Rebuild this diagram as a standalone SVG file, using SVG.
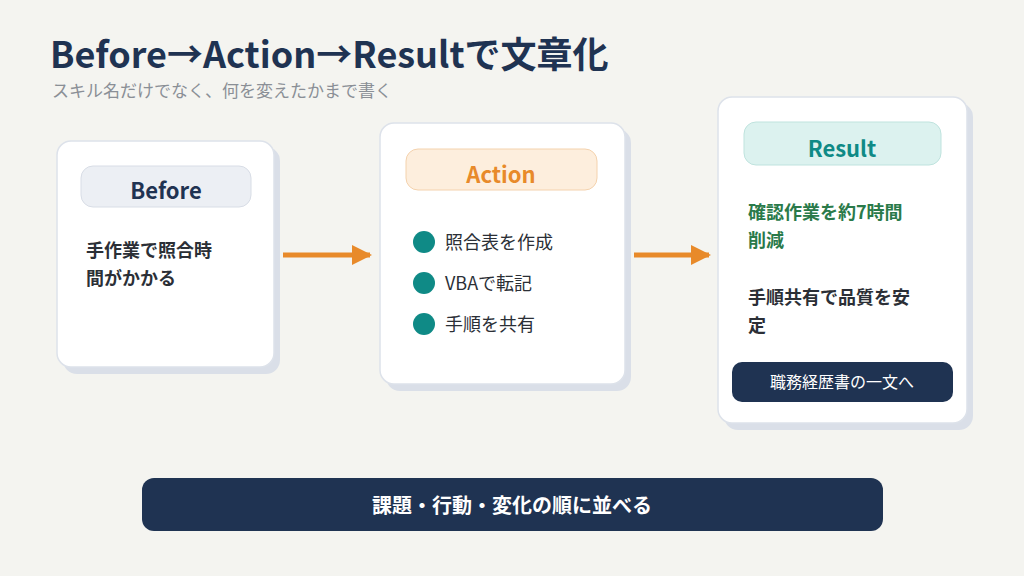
<svg xmlns="http://www.w3.org/2000/svg" width="1024" height="576" viewBox="0 0 1024 576">
<style>
text{font-family:"Noto Sans CJK JP","Noto Sans",sans-serif}
.card{fill:#fff;stroke:#dde2ea;stroke-width:1.5}
.sh{fill:#dadfe8}
.body{font-size:18px;font-weight:bold;fill:#2b2f36}
.item{font-size:18px;fill:#2b2f36}
.dot{fill:#0f8a86}
.conn{stroke:#e88a2a;stroke-width:5;fill:none}
</style>
<defs><marker id="ah" viewBox="0 0 10 10" refX="9" refY="5" markerWidth="4" markerHeight="4" orient="auto" markerUnits="strokeWidth"><path d="M0,0L10,5L0,10z" fill="#e88a2a"/></marker></defs>
<rect width="1024" height="576" fill="#f4f4f0"/>
<text x="50" y="68" font-size="36" font-weight="bold" fill="#1f3352">Before→Action→Resultで文章化</text>
<text x="52" y="97" font-size="17" fill="#8a8f96">スキル名だけでなく、何を変えたかまで書く</text>
<g id="before">
<rect class="sh" x="63" y="147" width="217" height="227" rx="14"/>
<rect class="card" x="57" y="141" width="217" height="226" rx="14"/>
<rect x="81" y="166" width="170" height="41" rx="12" fill="#eceff4" stroke="#d8dde6"/>
<text x="166" y="199" font-size="22" font-weight="bold" fill="#1f3352" text-anchor="middle">Before</text>
<text class="body" x="86" y="257">手作業で照合時</text>
<text class="body" x="86" y="285">間がかかる</text>
</g>
<g id="action">
<rect class="sh" x="386" y="129" width="245" height="262" rx="14"/>
<rect class="card" x="380" y="123" width="245" height="261" rx="14"/>
<rect x="406" y="149" width="191" height="41" rx="12" fill="#fdeedd" stroke="#f4d2ad"/>
<text x="501" y="183" font-size="22" font-weight="bold" fill="#e88a2a" text-anchor="middle">Action</text>
<circle class="dot" cx="424" cy="242" r="11"/><text class="item" x="445" y="249">照合表を作成</text>
<circle class="dot" cx="424" cy="283" r="11"/><text class="item" x="445" y="290">VBAで転記</text>
<circle class="dot" cx="424" cy="324" r="11"/><text class="item" x="445" y="331">手順を共有</text>
</g>
<g id="result">
<rect class="sh" x="724" y="103" width="249" height="327" rx="14"/>
<rect class="card" x="718" y="97" width="249" height="326" rx="14"/>
<rect x="744" y="122" width="197" height="43" rx="12" fill="#dcf2ef" stroke="#bfe3de"/>
<text x="842" y="157" font-size="22" font-weight="bold" fill="#0f8a86" text-anchor="middle">Result</text>
<text class="body" x="748" y="219" fill="#2a7a4a" style="fill:#2a7a4a">確認作業を約7時間</text>
<text class="body" x="748" y="247" style="fill:#2a7a4a">削減</text>
<text class="body" x="748" y="304">手順共有で品質を安</text>
<text class="body" x="748" y="332">定</text>
<rect x="732" y="362" width="221" height="40" rx="10" fill="#1f3352"/>
<text x="842" y="388" font-size="16" fill="#fff" text-anchor="middle">職務経歴書の一文へ</text>
</g>
<g id="connectors">
<line class="conn" x1="283" y1="255" x2="370" y2="255" marker-end="url(#ah)"/>
<line class="conn" x1="634" y1="255" x2="709" y2="255" marker-end="url(#ah)"/>
</g>
<g id="footer">
<rect x="142" y="478" width="741" height="53" rx="12" fill="#1f3352"/>
<text x="512" y="513" font-size="20" font-weight="bold" fill="#fff" text-anchor="middle">課題・行動・変化の順に並べる</text>
</g>
</svg>
